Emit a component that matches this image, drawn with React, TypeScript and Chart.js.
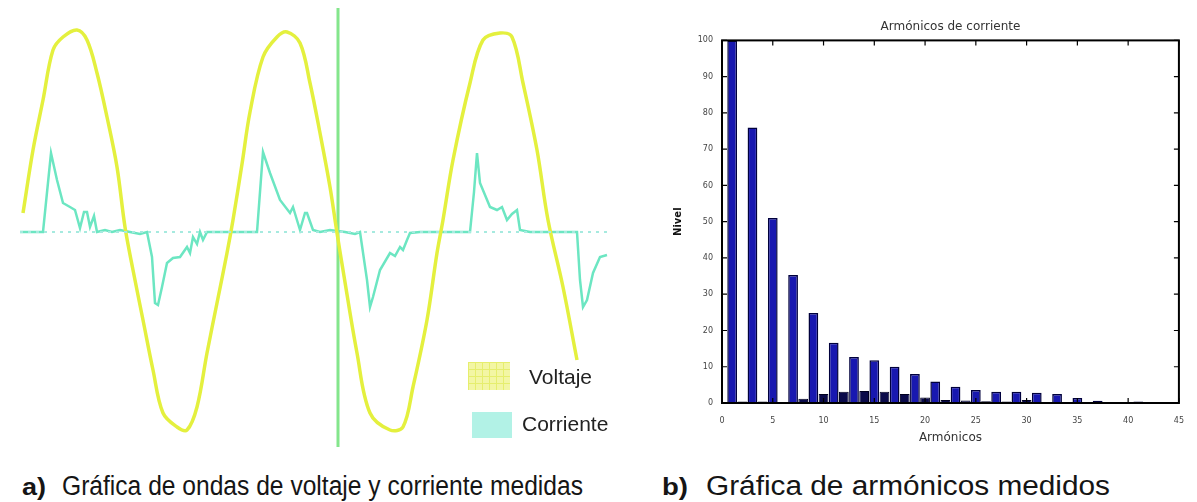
import React, { useEffect, useLayoutEffect, useRef } from "react";
import { Chart, registerables } from "chart.js";
Chart.register(...registerables);

// ---------- Panel a) : measured waves ----------
const voltT = [23, 33, 43, 53, 63, 77, 87, 97, 107, 117, 125, 133, 143, 153, 163, 177, 187, 197, 207, 217, 227, 233, 242, 250, 263, 277, 287, 300, 310, 320, 330, 337, 343, 357, 370, 390, 403, 413, 427, 437, 443, 453, 470, 483, 500, 512, 523, 537, 548, 563, 577];
const voltV = [9.5, 41, 66, 91, 97.5, 101, 96, 79.5, 57.5, 32.5, 2.5, -19, -44, -69, -90.5, -97.5, -99, -87.5, -60.5, -35.5, -10.5, 6, 34, 60, 87.5, 97.5, 100, 94.5, 74.5, 49.5, 22.5, -0.5, -19, -60.5, -90.5, -99, -97.5, -77.5, -44, -10.5, 6, 36, 74.5, 96, 99.5, 97.5, 74.5, 41, 6, -27.5, -64];

const curT = [20, 43, 51, 57, 63, 70, 75, 80, 84, 87, 90, 94, 97, 105, 112, 120, 130, 140, 147, 152, 155, 158, 162, 167, 173, 180, 187, 190, 193, 197, 200, 203, 207, 220, 235, 250, 257, 263, 270, 280, 290, 293, 300, 305, 307, 313, 320, 330, 345, 355, 360, 367, 370, 373, 380, 390, 395, 400, 403, 407, 410, 420, 440, 460, 470, 474, 477, 480, 490, 497, 502, 507, 512, 517, 520, 530, 545, 560, 577, 580, 583, 587, 593, 600, 607];
const curI = [0, 0, 39.5, 26, 14.5, 12.5, 11, 2, 10, 10, 2.5, 8, 0, 1, 0, 1, 0, -1, 0, -12.5, -35.5, -36.5, -27.5, -15.5, -13, -12.5, -7.5, -10.5, -2.5, -6, 0, -4, 0, 0, 0, 0, 0, 40, 29.5, 16, 9.5, 12.5, 1, 9.5, 9.5, 1, 0, 1, 0, -1, 0, -24, -37.5, -32.5, -19, -10.5, -12, -7.5, -9, -4, -0.5, 0, 0, 0, 0, 20, 39.5, 24.5, 12.5, 11, 12.5, 6, 9, 11, 1, 0, 0, 0, 0, -24, -37.5, -34, -20.5, -12.5, -11.5];

const zeroT = [20, 610];
const zeroV = [0, 0];
const markerT = [338, 338];
const markerV = [112, -107.5];

const legendLabels = ["Voltaje", "Corriente"];

// ---------- Panel b) : harmonics ----------
const oddOrders = [1, 3, 5, 7, 9, 11, 13, 15, 17, 19, 21, 23, 25, 27, 29, 31, 33, 35, 37, 39, 41];
const oddLevels = [100, 76, 51, 35.3, 24.8, 16.6, 12.7, 11.8, 10, 8, 5.9, 4.5, 3.6, 3.1, 3.1, 2.8, 2.5, 1.4, 0.6, 0.3, 0.4];
const evenOrders = [2, 4, 6, 8, 10, 12, 14, 16, 18, 20, 22, 24, 26, 28, 30, 32, 34, 36, 38, 40];
const evenLevels = [0.4, 0.4, 0.3, 1.2, 2.5, 3.1, 3.3, 3.1, 2.5, 1.5, 0.8, 0.7, 0.5, 0.4, 0.8, 0.3, 0.2, 0.2, 0.1, 0.1];

const chartTitle = "Armónicos de corriente";
const xTitle = "Armónicos";
const yTitle = "Nivel";
const captionA = "Gráfica de ondas de voltaje y corriente medidas";
const captionB = "Gráfica de armónicos medidos";

const pts = (xs: number[], ys: number[]) => xs.map((x, i) => ({ x, y: ys[i] }));

const boxPlugin = {
  id: "boxTicks",
  afterDatasetsDraw(chart: any) {
    const { ctx, chartArea: a, scales } = chart;
    const x = scales.x;
    const y = scales.y;
    ctx.save();
    ctx.strokeStyle = "#000";
    ctx.lineWidth = 2;
    ctx.strokeRect(a.left, a.top, a.right - a.left, a.bottom - a.top);
    ctx.lineWidth = 1.2;
    const L = 5;
    ctx.beginPath();
    x.ticks.forEach((t: any) => {
      const p = x.getPixelForValue(t.value);
      ctx.moveTo(p, a.bottom);
      ctx.lineTo(p, a.bottom - L);
      ctx.moveTo(p, a.top);
      ctx.lineTo(p, a.top + L);
    });
    y.ticks.forEach((t: any) => {
      const p = y.getPixelForValue(t.value);
      ctx.moveTo(a.left, p);
      ctx.lineTo(a.left + L, p);
      ctx.moveTo(a.right, p);
      ctx.lineTo(a.right - L, p);
    });
    ctx.stroke();
    ctx.restore();
  },
};

function FitText(props: { text: string; left: number; top: number; width: number; size: number; bold?: boolean }) {
  const ref = useRef<HTMLSpanElement>(null);
  useLayoutEffect(() => {
    const el = ref.current;
    if (!el) return;
    el.style.transform = "none";
    const w = el.getBoundingClientRect().width;
    if (w > 0) el.style.transform = `scaleX(${props.width / w})`;
  }, [props.text, props.width]);
  return (
    <span
      ref={ref}
      style={{
        position: "absolute",
        left: props.left,
        top: props.top,
        fontSize: props.size,
        fontWeight: props.bold ? "bold" : "normal",
        fontFamily: "'Liberation Sans', Arial, sans-serif",
        whiteSpace: "nowrap",
        transformOrigin: "0 0",
        lineHeight: "32px",
        color: "#151515",
      }}
    >
      {props.text}
    </span>
  );
}

export default function App() {
  const leftRef = useRef<HTMLCanvasElement>(null);
  const rightRef = useRef<HTMLCanvasElement>(null);

  useEffect(() => {
    const left = new Chart(leftRef.current as HTMLCanvasElement, {
      type: "line",
      data: {
        datasets: [
          {
            label: "cero",
            data: pts(zeroT, zeroV),
            borderColor: "#a6eadf",
            borderWidth: 2,
            borderDash: [3, 5],
            pointRadius: 0,
          },
          {
            label: legendLabels[0],
            data: pts(voltT, voltV),
            borderColor: "#e4f03e",
            borderWidth: 3.5,
            pointRadius: 0,
            tension: 0.35,
          },
          {
            label: legendLabels[1],
            data: pts(curT, curI),
            borderColor: "#6ce6c2",
            borderWidth: 2.5,
            pointRadius: 0,
            tension: 0,
          },
          {
            label: "marcador",
            data: pts(markerT, markerV),
            borderColor: "#84e68c",
            borderWidth: 3,
            pointRadius: 0,
          },
        ],
      },
      options: {
        animation: false,
        responsive: false,
        layout: { padding: { left: 20, right: 20, top: 8, bottom: 10 } },
        plugins: { legend: { display: false }, tooltip: { enabled: false } },
        scales: {
          x: { type: "linear", min: 20, max: 610, display: false },
          y: { type: "linear", min: -109, max: 112, display: false },
        },
      },
    });

    const right = new Chart(rightRef.current as HTMLCanvasElement, {
      type: "bar",
      data: {
        datasets: [
          {
            label: "Impares",
            data: pts(oddOrders, oddLevels),
            backgroundColor: "#1818b0",
            borderColor: "#00003c",
            borderWidth: 1.5,
            grouped: false,
            categoryPercentage: 1,
            barPercentage: 0.96,
          } as any,
          {
            label: "Pares",
            data: pts(evenOrders, evenLevels),
            backgroundColor: "#0a0a4a",
            borderColor: "#000020",
            borderWidth: 1,
            grouped: false,
            categoryPercentage: 1,
            barPercentage: 0.96,
          } as any,
        ],
      },
      options: {
        animation: false,
        responsive: false,
        layout: { padding: { left: 0, right: 12, top: 0, bottom: 0 } },
        plugins: {
          legend: { display: false },
          tooltip: { enabled: false },
          title: {
            display: true,
            text: chartTitle,
            fullSize: false,
            color: "#333",
            font: { family: "'DejaVu Sans'", size: 12, weight: "normal" },
            padding: { top: 20, bottom: 6 },
          },
        },
        scales: {
          x: {
            type: "linear",
            min: 0,
            max: 45,
            offset: false,
            grid: { display: false, drawTicks: false },
            border: { display: false },
            ticks: { stepSize: 5, color: "#444", font: { family: "'DejaVu Sans'", size: 8 }, padding: 13, maxRotation: 0 },
            title: {
              display: true,
              text: xTitle,
              color: "#333",
              font: { family: "'DejaVu Sans'", size: 12 },
              padding: { top: 0, bottom: 15 },
            },
            afterFit: (s: any) => {
              s.height = 57;
            },
          },
          y: {
            type: "linear",
            min: 0,
            max: 100,
            grid: { display: false, drawTicks: false },
            border: { display: false },
            ticks: { stepSize: 10, color: "#444", font: { family: "'DejaVu Sans'", size: 8 }, padding: 9 },
            title: {
              display: true,
              text: yTitle,
              color: "#111",
              font: { family: "'DejaVu Sans'", size: 10, weight: "bold" },
              padding: { top: 32, bottom: 0 },
            },
            afterFit: (s: any) => {
              s.width = 82;
            },
          },
        },
      },
      plugins: [boxPlugin],
    });

    return () => {
      left.destroy();
      right.destroy();
    };
  }, []);

  return (
    <div style={{ position: "absolute", left: 0, top: 0, width: 1197, height: 502, background: "#fff", overflow: "hidden" }}>
      <div style={{ position: "absolute", left: 0, top: 0 }}>
        <canvas ref={leftRef} width={630} height={460} />
      </div>
      <div
        style={{
          position: "absolute",
          left: 468,
          top: 362,
          width: 42,
          height: 28,
          backgroundColor: "#f3f6a4",
          backgroundImage:
            "linear-gradient(#e6ee6e 1px, transparent 1px), linear-gradient(90deg, #e6ee6e 1px, transparent 1px)",
          backgroundSize: "7px 7px",
        }}
      />
      <span
        style={{ position: "absolute", left: 529, top: 364, fontSize: 21, lineHeight: "26px", fontFamily: "'Liberation Sans', Arial, sans-serif", color: "#222" }}
      >
        {legendLabels[0]}
      </span>
      <div style={{ position: "absolute", left: 472, top: 412, width: 40, height: 26, backgroundColor: "#b2f2e6" }} />
      <span
        style={{ position: "absolute", left: 522, top: 411, fontSize: 21, lineHeight: "26px", fontFamily: "'Liberation Sans', Arial, sans-serif", color: "#222" }}
      >
        {legendLabels[1]}
      </span>
      <div style={{ position: "absolute", left: 640, top: 0 }}>
        <canvas ref={rightRef} width={557} height={460} />
      </div>
      <FitText text="a)" left={22} top={471} width={24} size={24} bold />
      <FitText text={captionA} left={62} top={470} width={521} size={27} />
      <FitText text="b)" left={662} top={471} width={26} size={24} bold />
      <FitText text={captionB} left={706} top={470} width={404} size={27} />
    </div>
  );
}
